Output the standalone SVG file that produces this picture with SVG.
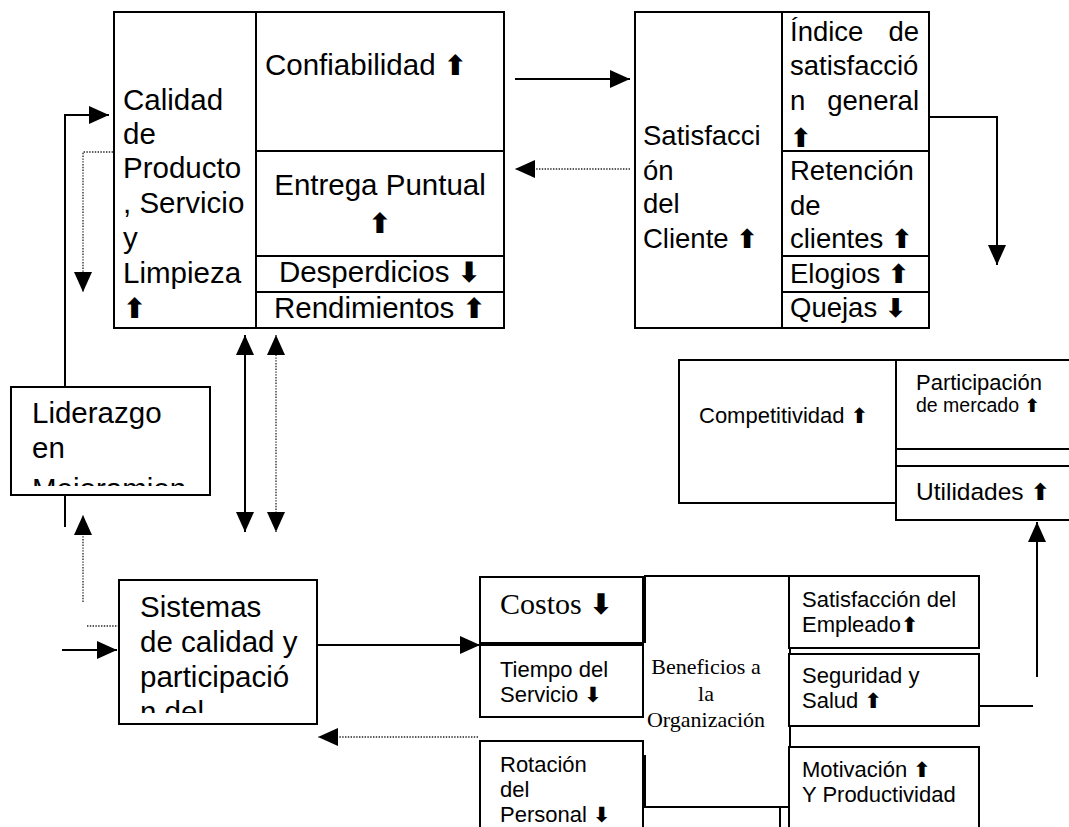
<svg xmlns="http://www.w3.org/2000/svg" width="1069" height="827" viewBox="0 0 1069 827">
<style>
.box{fill:#fff;stroke:#000;stroke-width:2}
.ln{fill:none;stroke:#000;stroke-width:2}
.dot{fill:none;stroke:#222;stroke-width:1.3;stroke-dasharray:1.4 1.4}
.s{font-family:"Liberation Sans",Arial,sans-serif;fill:#000}
.f30{font-size:29.5px}
.f27{font-size:27.5px}
.f24{font-size:24.5px}
.f22{font-size:22px}
.f20{font-size:19.5px}
.tr{font-family:"Liberation Serif","Times New Roman",serif;fill:#000}
.ar{font-family:"DejaVu Sans",sans-serif;font-weight:bold;font-size:0.95em}
</style>
<defs>
<marker id="ah" viewBox="0 0 20 18" refX="20" refY="9" markerWidth="20" markerHeight="18" markerUnits="userSpaceOnUse" orient="auto-start-reverse">
<path d="M0,0L20,9L0,18Z" fill="#000"/>
</marker>
<clipPath id="clipLid"><rect x="11" y="387" width="199" height="99"/></clipPath>
<clipPath id="clipSis"><rect x="119" y="580" width="198" height="133"/></clipPath>
</defs>
<rect width="1069" height="827" fill="#fff"/>

<g id="connectors">
<path class="ln" d="M515,79H630" marker-end="url(#ah)"/>
<path class="dot" d="M630,169H515" marker-end="url(#ah)"/>
<path class="ln" d="M929,117H997V265" marker-end="url(#ah)"/>
<path class="ln" d="M65,387V115H109" marker-end="url(#ah)"/>
<path class="dot" d="M113,152H83V292" marker-end="url(#ah)"/>
<path class="ln" d="M245,335V532" marker-start="url(#ah)" marker-end="url(#ah)"/>
<path class="dot" d="M276,335V532" marker-start="url(#ah)" marker-end="url(#ah)"/>
<path class="ln" d="M65,495V527"/>
<path class="dot" d="M83,602V515" marker-end="url(#ah)"/>
<path class="dot" d="M87,626H119"/>
<path class="ln" d="M62,650H117" marker-end="url(#ah)"/>
<path class="ln" d="M317,645H480" marker-end="url(#ah)"/>
<path class="dot" d="M478,737H318" marker-end="url(#ah)"/>
<path class="ln" d="M1037,677V522" marker-end="url(#ah)"/>
<path class="ln" d="M978,706H1033"/>
<path class="ln" d="M780,807V827"/>
</g>

<g id="calidad">
<rect class="box" x="114" y="12" width="390" height="316"/>
<path class="ln" d="M256,12V328M256,151H504M256,256H504M256,292H504"/>
<text class="s f30"><tspan x="123" y="110">Calidad</tspan><tspan x="123" y="144">de</tspan><tspan x="123" y="178">Producto</tspan><tspan x="123" y="213">, Servicio</tspan><tspan x="123" y="248">y</tspan><tspan x="123" y="283">Limpieza</tspan><tspan x="123" y="318" class="ar">⬆</tspan></text>
<text class="s f30" x="265" y="75">Confiabilidad <tspan class="ar">⬆</tspan></text>
<text class="s f30" text-anchor="middle"><tspan x="380" y="195">Entrega Puntual</tspan><tspan x="380" y="233" class="ar">⬆</tspan></text>
<text class="s f30" x="380" y="282" text-anchor="middle">Desperdicios <tspan class="ar">⬇</tspan></text>
<text class="s f30" x="380" y="318" text-anchor="middle">Rendimientos <tspan class="ar">⬆</tspan></text>
</g>

<g id="satisfaccion">
<rect class="box" x="635" y="12" width="294" height="316"/>
<path class="ln" d="M782,12V328M782,151H929M782,256H929M782,292H929"/>
<text class="s f27"><tspan x="643" y="145">Satisfacci</tspan><tspan x="643" y="180">ón</tspan><tspan x="643" y="213">del</tspan><tspan x="643" y="248">Cliente <tspan class="ar">⬆</tspan></tspan></text>
<text class="s f27"><tspan x="790" y="41">Índice</tspan><tspan x="919" y="41" text-anchor="end">de</tspan><tspan x="790" y="75">satisfacció</tspan><tspan x="790" y="110">n</tspan><tspan x="919" y="110" text-anchor="end">general</tspan><tspan x="790" y="147" class="ar">⬆</tspan></text>
<text class="s f27"><tspan x="790" y="180">Retención</tspan><tspan x="790" y="215">de</tspan><tspan x="790" y="248">clientes <tspan class="ar">⬆</tspan></tspan></text>
<text class="s f27" x="790" y="283">Elogios <tspan class="ar">⬆</tspan></text>
<text class="s f27" x="790" y="317">Quejas <tspan class="ar">⬇</tspan></text>
</g>

<g id="liderazgo">
<rect class="box" x="11" y="387" width="199" height="108"/>
<text class="s f30" clip-path="url(#clipLid)"><tspan x="32" y="423">Liderazgo</tspan><tspan x="32" y="458">en</tspan><tspan x="32" y="499">Mejoramien</tspan></text>
</g>

<g id="competitividad">
<rect class="box" x="679" y="360" width="217" height="143"/>
<text class="s f22" x="699" y="423">Competitividad <tspan class="ar">⬆</tspan></text>
</g>

<g id="participacion">
<rect class="box" x="896" y="360" width="180" height="89"/>
<text class="s"><tspan x="916" y="390" class="f22">Participación</tspan><tspan x="916" y="412" class="f20">de mercado <tspan class="ar">⬆</tspan></tspan></text>
</g>

<g id="utilidades">
<rect class="box" x="896" y="466" width="180" height="54"/>
<text class="s f24" x="916" y="500">Utilidades <tspan class="ar">⬆</tspan></text>
</g>

<g id="sistemas">
<rect class="box" x="119" y="580" width="198" height="144"/>
<text class="s f30" clip-path="url(#clipSis)"><tspan x="140" y="617">Sistemas</tspan><tspan x="140" y="652">de calidad y</tspan><tspan x="140" y="687">participació</tspan><tspan x="140" y="722">n del</tspan></text>
</g>

<g id="costos">
<rect class="box" x="480" y="577" width="163" height="66"/>
<text class="tr" font-size="30" x="500" y="614">Costos <tspan class="ar">⬇</tspan></text>
</g>

<g id="tiempo">
<rect class="box" x="480" y="645" width="163" height="72"/>
<text class="s f22"><tspan x="500" y="677">Tiempo del</tspan><tspan x="500" y="702">Servicio <tspan class="ar">⬇</tspan></tspan></text>
</g>

<g id="rotacion">
<rect class="box" x="480" y="741" width="163" height="100"/>
<text class="s f22"><tspan x="500" y="772">Rotación</tspan><tspan x="500" y="797">del</tspan><tspan x="500" y="822">Personal <tspan class="ar">⬇</tspan></tspan></text>
</g>

<g id="beneficios">
<path class="ln" d="M645,643V576H790V807H645V755"/>
<text class="tr" font-size="22" text-anchor="middle"><tspan x="706" y="674">Beneficios a</tspan><tspan x="706" y="701">la</tspan><tspan x="706" y="727">Organización</tspan></text>
</g>

<g id="empleado">
<rect class="box" x="789" y="576" width="190" height="72"/>
<text class="s f22"><tspan x="802" y="607">Satisfacción del</tspan><tspan x="802" y="632">Empleado<tspan class="ar">⬆</tspan></tspan></text>
</g>

<g id="seguridad">
<rect class="box" x="789" y="654" width="190" height="72"/>
<text class="s f22"><tspan x="802" y="683">Seguridad y</tspan><tspan x="802" y="708">Salud <tspan class="ar">⬆</tspan></tspan></text>
</g>

<g id="motivacion">
<rect class="box" x="789" y="747" width="190" height="100"/>
<text class="s f22"><tspan x="802" y="777">Motivación <tspan class="ar">⬆</tspan></tspan><tspan x="802" y="802">Y Productividad</tspan></text>
</g>
</svg>
